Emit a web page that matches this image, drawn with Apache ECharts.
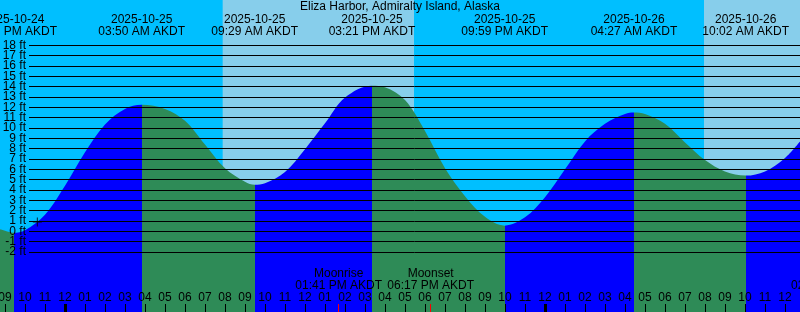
<!DOCTYPE html>
<html><head><meta charset="utf-8">
<script src="https://cdn.jsdelivr.net/npm/echarts@6/dist/echarts.min.js"></script>
<style>html,body{margin:0;padding:0;background:#fff}#c{width:800px;height:312px}</style>
</head><body><div id="c"></div>
<script>
const chartTitle = 'Eliza Harbor, Admiralty Island, Alaska';
const tzName = 'AKDT';
const viewStart = '2025-10-24 20:45';
const viewEnd = '2025-10-26 12:45';

// tide curve
const curveTimes = [
  '2025-10-24 20:45','2025-10-24 21:00','2025-10-24 21:26','2025-10-24 22:00','2025-10-24 23:00',
  '2025-10-25 00:00','2025-10-25 01:00','2025-10-25 02:00','2025-10-25 03:00','2025-10-25 03:50',
  '2025-10-25 05:00','2025-10-25 06:00','2025-10-25 07:00','2025-10-25 08:00','2025-10-25 09:00',
  '2025-10-25 09:29','2025-10-25 10:00','2025-10-25 11:00','2025-10-25 12:00','2025-10-25 13:00',
  '2025-10-25 14:00','2025-10-25 15:21','2025-10-25 16:00','2025-10-25 17:00','2025-10-25 18:00',
  '2025-10-25 19:00','2025-10-25 20:00','2025-10-25 21:00','2025-10-25 21:59','2025-10-25 23:00',
  '2025-10-26 00:00','2025-10-26 01:00','2025-10-26 02:00','2025-10-26 03:00','2025-10-26 04:00',
  '2025-10-26 04:27','2025-10-26 05:00','2025-10-26 06:00','2025-10-26 07:00','2025-10-26 08:00',
  '2025-10-26 09:00','2025-10-26 10:02','2025-10-26 11:00','2025-10-26 12:00','2025-10-26 12:45'
];
const curveHeights = [
  0.2, 0.05, -0.15, 0.1, 1.6,
  4.4, 7.65, 10.35, 11.85, 12.25,
  11.85, 10.7, 8.4, 6.1, 4.8,
  4.5, 4.65, 5.75, 7.95, 10.45,
  12.95, 14.1, 13.95, 12.7, 9.7,
  6.1, 3.4, 1.4, 0.55, 1.35,
  3.3, 6.0, 8.7, 10.4, 11.35,
  11.5, 11.35, 10.4, 8.6, 6.9,
  5.8, 5.4, 5.8, 7.1, 8.7
];

// high / low tide events
const extremeTimes = ['2025-10-24 21:26','2025-10-25 03:50','2025-10-25 09:29','2025-10-25 15:21','2025-10-25 21:59','2025-10-26 04:27','2025-10-26 10:02'];
const extremeHeights = [-0.15, 12.25, 4.5, 14.1, 0.55, 11.5, 5.4];

// daylight
const sunriseTimes = ['2025-10-25 07:53','2025-10-26 07:57'];
const sunsetTimes  = ['2025-10-25 17:27','2025-10-26 17:24'];

// moon
const moonEvents = ['Moonrise','Moonset','Moonrise'];
const moonTimes  = ['2025-10-25 13:41','2025-10-25 18:17','2025-10-26 14:28'];

// current-time marker
const nowTime = '2025-10-24 22:37';
const nowHeight = 0.9;

// ft gridlines
const ftLevels = [-2,-1,0,1,2,3,4,5,6,7,8,9,10,11,12,13,14,15,16,17,18];

const COL_NIGHT = '#00BFFF', COL_DAY = '#87CEEB', COL_RISE = '#0000FF', COL_FALL = '#2E8B57';
const FONT = 'Liberation Sans, Arial, sans-serif';

const base = Date.UTC(2025, 9, 25, 0, 0);
function hr(s) {
  const [d, t] = s.split(' ');
  const [Y, M, D] = d.split('-').map(Number);
  const [hh, mm] = t.split(':').map(Number);
  return (Date.UTC(Y, M - 1, D, hh, mm) - base) / 3600000;
}
function fmtTime(s) {
  const [hh, mm] = s.split(' ')[1].split(':').map(Number);
  const h12 = (hh % 12) || 12;
  return String(h12).padStart(2, '0') + ':' + String(mm).padStart(2, '0') + ' ' + (hh < 12 ? 'AM' : 'PM') + ' ' + tzName;
}
function nearestIdx(arr, v) {
  let bi = 0, bd = Infinity;
  arr.forEach((a, i) => { const d = Math.abs(a - v); if (d < bd) { bd = d; bi = i; } });
  return bi;
}

const xMin = hr(viewStart), xMax = hr(viewEnd);
const curve = curveTimes.map((t, i) => [hr(t), curveHeights[i]]);
const extremeHours = extremeTimes.map(hr);
const moonHours = moonTimes.map(hr);
const ftEven = ftLevels.filter(v => Math.abs(v % 2) === 0);
const ftOdd = ftLevels.filter(v => Math.abs(v % 2) === 1);

const hourTicks = [];
for (let h = Math.ceil(xMin); h <= Math.floor(xMax); h++) hourTicks.push(h);
const midnightTicks = hourTicks.filter(h => ((h % 24) + 24) % 24 === 0);

// rising = blue, falling = green
const pieces = [];
pieces.push({ lt: extremeHours[0], color: extremeHeights[0] < extremeHeights[1] ? COL_FALL : COL_RISE });
for (let i = 0; i < extremeHours.length; i++) {
  const p = { gte: extremeHours[i], color: COL_RISE };
  if (i + 1 < extremeHours.length) { p.lt = extremeHours[i + 1]; p.color = extremeHeights[i + 1] > extremeHeights[i] ? COL_RISE : COL_FALL; }
  else { p.color = extremeHeights[i] < extremeHeights[i - 1] ? COL_RISE : COL_FALL; }
  pieces.push(p);
}

const dayAreas = sunriseTimes.map((s, i) => [{ xAxis: Math.max(hr(s), xMin) }, { xAxis: Math.min(hr(sunsetTimes[i]), xMax) }]);

const yLow = -7.81, yHigh = 22.39;
const txt = { color: '#000', fontSize: 12, fontFamily: FONT, hideOverlap: false };
const hidden = { show: false };
const noLine = { show: false, onZero: false };
const gridBase = { outerBoundsMode: 'none', containLabel: false };

const chart = echarts.init(document.getElementById('c'), null, { renderer: 'canvas' });
chart.setOption({
  animation: false,
  backgroundColor: '#fff',
  title: { text: chartTitle, left: 'center', top: 1, padding: 0, z: 20, textStyle: { fontWeight: 'normal', color: '#000', fontSize: 12, fontFamily: FONT } },
  grid: [
    Object.assign({ left: 0, right: 0, top: 0, bottom: 0, show: true, backgroundColor: COL_NIGHT, borderWidth: 0 }, gridBase),
    Object.assign({ left: 0, right: 0, top: 0, bottom: 0 }, gridBase),
    Object.assign({ left: 0, right: -100, top: 0, bottom: 0 }, gridBase),
    Object.assign({ left: 29, right: 0, top: 0, bottom: 0 }, gridBase),
    Object.assign({ left: 29, right: 0, top: 0, bottom: 0 }, gridBase)
  ],
  xAxis: [
    { gridIndex: 0, type: 'value', min: xMin, max: xMax, position: 'bottom', z: 10,
      axisLine: noLine, splitLine: hidden,
      axisTick: { inside: true, length: 8, customValues: hourTicks, lineStyle: { color: '#000', width: 1 } },
      axisLabel: Object.assign({ inside: true, margin: 8.5, lineHeight: 12, customValues: hourTicks,
        formatter: v => { const h = ((Math.round(v) % 24) + 24) % 24; return String((h % 12) || 12).padStart(2, '0'); } }, txt) },
    { gridIndex: 0, type: 'value', min: xMin, max: xMax, position: 'top', z: 10,
      axisLine: noLine, splitLine: hidden, axisTick: hidden,
      axisLabel: Object.assign({ inside: true, margin: 13.5, lineHeight: 12, customValues: extremeHours,
        formatter: v => { const s = extremeTimes[nearestIdx(extremeHours, v)]; return s.split(' ')[0] + '\n' + fmtTime(s); } }, txt) },
    { gridIndex: 1, type: 'value', min: xMin, max: xMax, position: 'bottom', z: 11,
      axisLine: noLine, splitLine: hidden, axisLabel: hidden,
      axisTick: { inside: true, length: 8, customValues: midnightTicks, lineStyle: { color: '#000', width: 3 } } },
    { gridIndex: 2, type: 'value', min: xMin, max: xMax + 5, position: 'bottom', z: 11,
      axisLine: noLine, splitLine: hidden,
      axisTick: { inside: true, length: 8, customValues: moonHours, lineStyle: { color: '#FF0000', width: 1 } },
      axisLabel: Object.assign({ inside: true, margin: 20.5, lineHeight: 12, customValues: moonHours,
        formatter: v => { const i = nearestIdx(moonHours, v); return moonEvents[i] + '\n' + fmtTime(moonTimes[i]); } }, txt) },
    { gridIndex: 3, type: 'value', min: xMin, max: xMax, show: false },
    { gridIndex: 4, type: 'value', min: xMin, max: xMax, show: false }
  ],
  yAxis: [
    { gridIndex: 0, type: 'value', min: yLow, max: yHigh, show: false },
    { gridIndex: 1, type: 'value', min: yLow, max: yHigh, show: false },
    { gridIndex: 2, type: 'value', min: yLow, max: yHigh, show: false },
    { gridIndex: 3, type: 'value', min: yLow, max: yHigh, z: 10,
      axisLine: noLine,
      axisTick: { show: false, customValues: ftLevels },
      splitLine: { show: true, showMinLine: true, showMaxLine: true, lineStyle: { color: '#000', width: 1 } },
      axisLabel: Object.assign({ margin: 3, customValues: ftEven, formatter: v => v + ' ft' }, txt) },
    { gridIndex: 4, type: 'value', min: yLow, max: yHigh, z: 10,
      axisLine: noLine, axisTick: hidden, splitLine: hidden,
      axisLabel: Object.assign({ margin: 3, customValues: ftOdd, formatter: v => v + ' ft' }, txt) }
  ],
  visualMap: { type: 'piecewise', show: false, dimension: 0, seriesIndex: 1, pieces: pieces },
  series: [
    { type: 'line', xAxisIndex: 0, yAxisIndex: 0, data: curve, z: 1, silent: true, showSymbol: false,
      lineStyle: { width: 0, opacity: 0 },
      markArea: { silent: true, itemStyle: { color: COL_DAY }, data: dayAreas } },
    { type: 'line', xAxisIndex: 0, yAxisIndex: 0, data: curve, z: 3, smooth: 0.35, showSymbol: false, silent: true,
      lineStyle: { width: 0 }, areaStyle: { opacity: 1, origin: 'start' } },
    { type: 'scatter', xAxisIndex: 0, yAxisIndex: 0, z: 6, silent: true,
      data: [[hr(nowTime), nowHeight]],
      symbol: 'path://M0,4h9v1h-9zM4,0h1v9h-1z', symbolSize: 9, itemStyle: { color: '#000' } }
  ]
});
</script></body></html>
